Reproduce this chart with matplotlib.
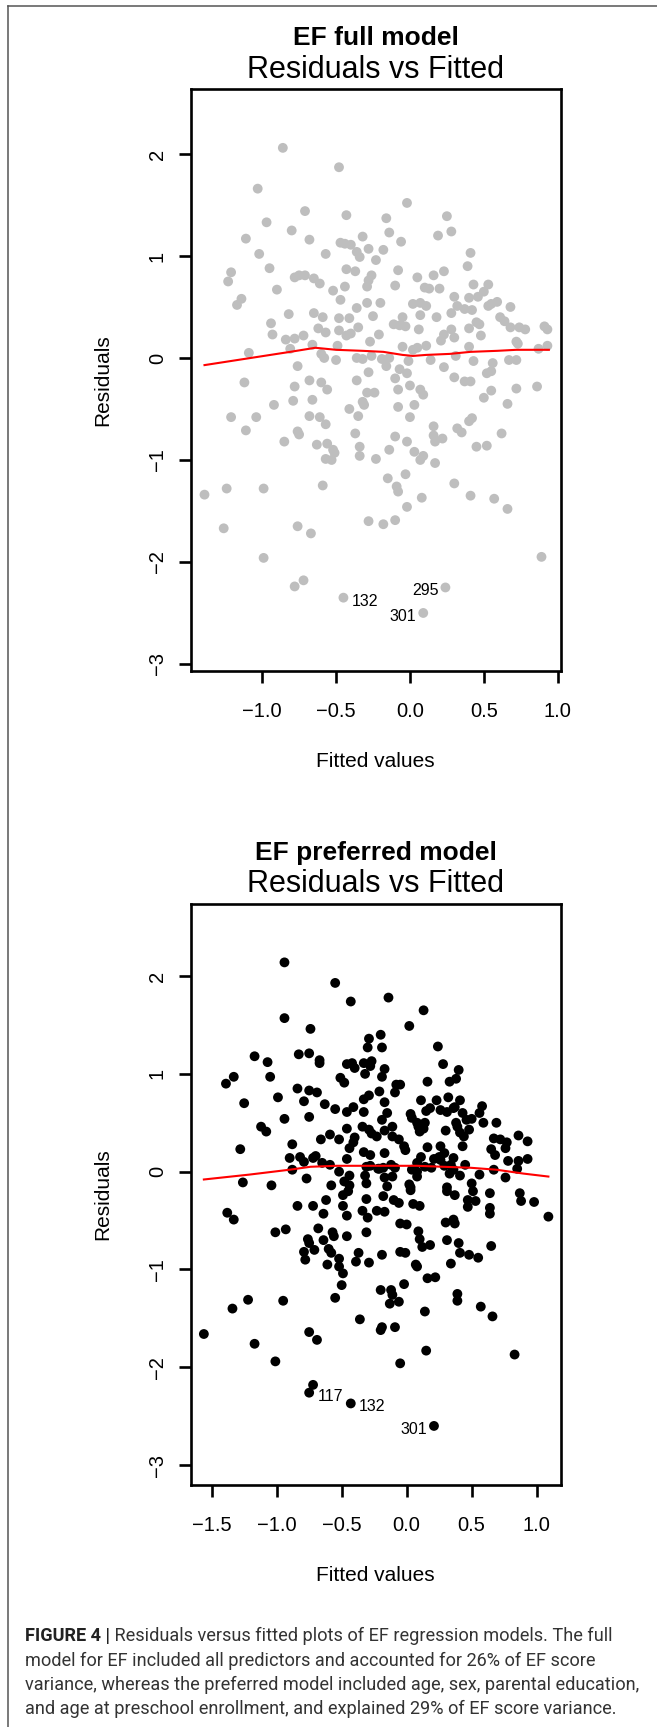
import matplotlib
matplotlib.use("Agg")
import matplotlib.pyplot as plt
from matplotlib.lines import Line2D

plt.rcParams['font.family'] = ['Liberation Sans', 'DejaVu Sans']

# ------------------------------------------------------------------ data
# EF full model: (fitted value, residual)
full_points = [
    (-0.86, 2.06), (-0.48, 1.87), (-1.03, 1.66), (-0.02, 1.52), (-0.71, 1.44), (-0.43, 1.40),
    (-0.16, 1.37), (0.25, 1.39), (-0.97, 1.33), (-0.80, 1.25), (-0.14, 1.23), (0.28, 1.24),
    (-1.11, 1.17), (-0.68, 1.16), (-0.32, 1.19), (-0.06, 1.14), (0.19, 1.20), (-0.47, 1.13),
    (-0.44, 1.12), (-0.40, 1.11), (-0.28, 1.07), (-1.02, 1.02), (-0.57, 1.02), (-0.36, 1.04),
    (-0.34, 0.99), (-0.18, 1.06), (0.41, 1.03), (-0.23, 0.96), (0.39, 0.90), (-1.21, 0.84),
    (-1.23, 0.75), (-0.95, 0.88), (-0.78, 0.79), (-0.75, 0.81), (-0.71, 0.81), (-0.65, 0.78),
    (-0.61, 0.73), (-0.43, 0.87), (-0.37, 0.85), (-0.26, 0.81), (-0.28, 0.76), (-0.29, 0.70),
    (-0.08, 0.86), (-0.10, 0.71), (0.05, 0.79), (0.16, 0.81), (0.23, 0.85), (0.43, 0.72),
    (0.53, 0.72), (-0.44, 0.70), (-0.52, 0.66), (-0.90, 0.67), (0.13, 0.68), (0.10, 0.69),
    (0.20, 0.68), (0.50, 0.65), (-1.17, 0.52), (-1.14, 0.58), (-0.47, 0.57), (-0.29, 0.54),
    (-0.20, 0.54), (0.30, 0.60), (0.40, 0.59), (0.46, 0.60), (0.02, 0.53), (0.07, 0.54),
    (0.11, 0.51), (0.32, 0.51), (0.37, 0.48), (0.42, 0.47), (0.59, 0.55), (0.55, 0.53),
    (0.53, 0.51), (0.68, 0.50), (-0.82, 0.43), (-0.65, 0.44), (-0.36, 0.49), (-0.94, 0.34),
    (-0.59, 0.40), (-0.48, 0.39), (-0.41, 0.39), (-0.25, 0.41), (-0.05, 0.40), (0.07, 0.42),
    (0.18, 0.40), (0.28, 0.44), (-0.11, 0.33), (-0.07, 0.32), (-0.03, 0.31), (0.45, 0.35),
    (0.47, 0.33), (0.61, 0.40), (0.64, 0.36), (0.68, 0.30), (0.74, 0.30), (0.78, 0.28),
    (0.91, 0.31), (0.93, 0.28), (-0.93, 0.23), (-0.84, 0.18), (-0.78, 0.19), (-0.72, 0.22),
    (-0.62, 0.29), (-0.57, 0.25), (-0.48, 0.27), (-0.43, 0.22), (-0.40, 0.24), (-0.35, 0.30),
    (-0.21, 0.23), (0.06, 0.28), (0.40, 0.29), (0.28, 0.28), (0.23, 0.23), (0.21, 0.17),
    (0.30, 0.20), (0.48, 0.22), (-0.27, 0.16), (-1.09, 0.05), (-0.81, 0.09), (-0.66, 0.13),
    (-0.49, 0.12), (-0.05, 0.11), (0.02, 0.08), (0.05, 0.10), (0.11, 0.12), (0.40, 0.11),
    (0.72, 0.16), (0.73, 0.14), (0.87, 0.09), (0.93, 0.12), (-0.60, 0.04), (-0.58, 0.00),
    (-0.50, -0.02), (-0.36, 0.00), (-0.32, -0.01), (-0.26, 0.02), (-0.19, -0.01), (-0.14, 0.00),
    (-0.01, -0.03), (0.14, -0.02), (0.31, 0.02), (0.43, -0.03), (0.67, -0.02), (0.72, -0.02),
    (-0.76, -0.08), (-0.28, -0.14), (-0.16, -0.08), (-0.07, -0.11), (-0.02, -0.15), (0.23, -0.09),
    (0.56, -0.05), (0.52, -0.15), (0.55, -0.13),
    (-1.12, -0.24), (-0.78, -0.28), (-0.68, -0.22), (-0.60, -0.24), (-0.56, -0.31), (-0.36, -0.22),
    (-0.29, -0.34), (-0.24, -0.34), (-0.10, -0.20), (-0.08, -0.31), (0.00, -0.27), (0.07, -0.31),
    (0.09, -0.36), (0.30, -0.19), (0.37, -0.23), (0.41, -0.23), (0.55, -0.32), (0.50, -0.39),
    (0.72, -0.30), (0.86, -0.28), (-0.92, -0.46), (-0.79, -0.42), (-0.66, -0.41), (-1.21, -0.58),
    (-1.04, -0.58), (-1.11, -0.71), (-0.68, -0.57), (-0.61, -0.58), (-0.57, -0.65), (-0.41, -0.50),
    (-0.35, -0.57), (-0.32, -0.43), (-0.31, -0.46), (-0.08, -0.48), (0.00, -0.58), (0.03, -0.46),
    (0.66, -0.45), (-0.85, -0.82), (-0.76, -0.72), (-0.75, -0.75), (-0.63, -0.85), (-0.56, -0.84),
    (-0.52, -0.90), (-0.51, -0.93), (-0.57, -0.99), (-0.53, -1.00), (-0.37, -0.74), (-0.34, -0.87),
    (-0.34, -0.96), (-0.23, -0.99), (-0.14, -0.90), (-0.10, -0.77), (-0.02, -0.82), (0.03, -0.92),
    (0.07, -1.00), (0.09, -0.96), (0.16, -0.67), (0.16, -0.76), (0.17, -0.82), (0.22, -0.79),
    (0.17, -1.03), (0.32, -0.69), (0.35, -0.73), (0.40, -0.62), (0.42, -0.59), (0.45, -0.87),
    (0.52, -0.86), (0.62, -0.74), (-1.39, -1.34), (-1.24, -1.28), (-0.99, -1.28), (-0.59, -1.25),
    (-0.15, -1.18), (-0.09, -1.26), (-0.08, -1.31), (-0.03, -1.14), (-0.02, -1.46), (0.08, -1.37),
    (0.30, -1.23), (0.41, -1.35), (0.57, -1.38), (0.66, -1.48), (-1.26, -1.67), (-0.76, -1.65),
    (-0.67, -1.72), (-0.28, -1.60), (-0.18, -1.63), (-0.10, -1.59), (-0.99, -1.96), (0.89, -1.95),
    (-0.78, -2.24), (-0.72, -2.18), (-0.45, -2.35), (0.24, -2.25), (0.09, -2.50),
]
full_smooth_x = [-1.39, -0.81, -0.64, -0.50, -0.32, -0.18, -0.05, 0.02, 0.11, 0.27, 0.41, 0.59, 0.72, 0.94]
full_smooth_y = [-0.07, 0.06, 0.10, 0.08, 0.07, 0.06, 0.03, 0.02, 0.03, 0.04, 0.06, 0.07, 0.08, 0.08]
full_id_labels = ["132", "295", "301"]
full_id_fitted = [-0.45, 0.24, 0.09]
full_id_resid = [-2.35, -2.25, -2.50]

# EF preferred model: (fitted value, residual)
pref_points = [
    (-0.94, 2.14), (-0.55, 1.93), (-0.43, 1.74), (-0.14, 1.78), (0.13, 1.65), (-0.94, 1.57),
    (-0.74, 1.46), (0.02, 1.49), (-0.29, 1.36), (-0.20, 1.40), (-0.30, 1.27), (-0.19, 1.27),
    (0.24, 1.28), (-1.17, 1.18), (-1.07, 1.12), (-0.83, 1.20), (-0.75, 1.21), (-0.67, 1.14),
    (-0.67, 1.11), (-0.46, 1.10), (-0.42, 1.11), (-0.40, 1.06), (-0.33, 1.11), (-0.28, 1.08),
    (-0.32, 1.00), (-0.27, 1.13), (-0.17, 1.05), (-0.19, 0.97), (0.28, 1.10), (0.40, 1.04),
    (-1.39, 0.90), (-1.33, 0.97), (-1.05, 0.97), (-0.51, 0.96), (-0.48, 0.91), (0.33, 0.92),
    (0.38, 0.95), (0.16, 0.92), (-0.08, 0.89), (-0.05, 0.89), (-0.09, 0.81), (-0.84, 0.85),
    (-0.75, 0.83), (-0.69, 0.81), (-0.79, 0.72), (-0.99, 0.76), (-1.25, 0.70), (-0.63, 0.69),
    (-0.55, 0.64), (-0.46, 0.61), (-0.41, 0.66), (-0.33, 0.61), (-0.33, 0.74), (-0.29, 0.78),
    (-0.21, 0.82), (-0.17, 0.71), (-0.15, 0.60), (-0.19, 0.53), (-0.75, 0.56), (-0.94, 0.54),
    (0.03, 0.59), (0.04, 0.55), (0.11, 0.73), (0.15, 0.62), (0.18, 0.65), (0.23, 0.73),
    (0.26, 0.63), (0.31, 0.61), (0.32, 0.76), (0.36, 0.65), (0.41, 0.73), (0.43, 0.60),
    (0.58, 0.67), (0.56, 0.60), (0.59, 0.50), (0.69, 0.50), (0.37, 0.66), (0.38, 0.50),
    (0.50, 0.54), (0.46, 0.53), (0.09, 0.46), (0.08, 0.50), (0.14, 0.50), (0.13, 0.44),
    (0.10, 0.41), (0.30, 0.42), (0.39, 0.46), (0.41, 0.40), (0.48, 0.43), (0.44, 0.36),
    (-1.12, 0.46), (-1.08, 0.41), (-0.88, 0.28), (-0.66, 0.33), (-0.59, 0.38), (-0.52, 0.33),
    (-0.46, 0.44), (-0.40, 0.35), (-0.41, 0.30), (-0.44, 0.24), (-0.34, 0.46), (-0.29, 0.43),
    (-0.27, 0.39), (-0.23, 0.36), (-0.17, 0.42), (-0.11, 0.46), (-0.11, 0.36), (-0.06, 0.33),
    (-0.02, 0.26), (-0.01, 0.22), (0.16, 0.25), (0.26, 0.26), (0.29, 0.19), (0.25, 0.15),
    (0.36, 0.14), (0.43, 0.26), (0.67, 0.34), (0.72, 0.33), (0.65, 0.23), (0.68, 0.17),
    (0.77, 0.30), (0.76, 0.24), (0.86, 0.37), (0.93, 0.31), (0.78, 0.11), (0.86, 0.11),
    (0.93, 0.13), (0.85, 0.03), (-1.28, 0.23), (-0.90, 0.14), (-0.82, 0.15), (-0.79, 0.10),
    (-0.72, 0.14), (-0.70, 0.16), (-0.65, 0.09), (-0.59, 0.07), (-0.46, 0.13), (-0.33, 0.20),
    (-0.28, 0.17), (-0.17, 0.19), (-0.12, 0.07), (-0.09, 0.04), (0.04, 0.02), (0.08, 0.09),
    (0.11, 0.15), (0.19, 0.04), (0.21, 0.13), (0.26, 0.12), (0.29, 0.06), (0.34, 0.07),
    (0.36, 0.02), (0.45, 0.07), (-0.88, 0.02), (-0.52, 0.00), (-0.31, 0.05), (-0.28, 0.06),
    (-0.22, 0.03), (-0.18, 0.04), (0.08, 0.00), (0.14, 0.05), (0.67, 0.02), (0.76, -0.06),
    (-1.26, -0.11), (-1.04, -0.14), (-0.77, -0.07), (-0.58, -0.14), (-0.48, -0.10), (-0.44, -0.04),
    (-0.44, -0.14), (-0.32, -0.04), (-0.31, -0.12), (-0.21, 0.03), (-0.17, -0.06), (-0.15, -0.15),
    (-0.11, -0.05), (0.02, -0.13), (0.03, -0.16), (0.08, -0.05), (0.31, -0.16), (0.33, -0.02),
    (0.41, -0.04), (0.50, -0.12), (0.56, -0.03),
    (-0.49, -0.24), (-0.45, -0.20), (-0.18, -0.25), (0.03, -0.19), (0.31, -0.20), (0.37, -0.24),
    (0.51, -0.20), (0.64, -0.22), (0.87, -0.22), (0.88, -0.30), (0.98, -0.31), (1.09, -0.46),
    (-1.38, -0.42), (-1.33, -0.49), (-0.84, -0.35), (-0.72, -0.35), (-0.62, -0.29), (-0.64, -0.43),
    (-0.49, -0.35), (-0.46, -0.45), (-0.34, -0.40), (-0.31, -0.28), (-0.30, -0.47), (-0.23, -0.40),
    (-0.17, -0.41), (-0.10, -0.29), (-0.06, -0.32), (-0.05, -0.53), (0.00, -0.54), (0.05, -0.33),
    (0.10, -0.35), (0.09, -0.61), (0.10, -0.69), (0.12, -0.77), (0.18, -0.75), (0.30, -0.52),
    (0.36, -0.49), (0.37, -0.53), (0.47, -0.29), (0.53, -0.30), (0.47, -0.36), (0.64, -0.37),
    (0.64, -0.43), (-1.01, -0.62), (-0.93, -0.59), (-0.76, -0.69), (-0.75, -0.73), (-0.71, -0.80),
    (-0.68, -0.58), (-0.64, -0.70), (-0.57, -0.62), (-0.56, -0.66), (-0.60, -0.79), (-0.58, -0.83),
    (-0.46, -0.66), (-0.31, -0.62), (-0.79, -0.82), (-0.78, -0.90), (-0.61, -0.95), (-0.52, -0.89),
    (-0.52, -0.97), (-0.49, -1.04), (-0.50, -1.16), (-0.55, -1.29), (-0.37, -0.83), (-0.39, -0.92),
    (-0.29, -0.93), (-0.19, -0.85), (-0.05, -0.82), (-0.01, -0.83), (0.31, -0.70), (0.40, -0.73),
    (0.41, -0.83), (0.48, -0.85), (0.55, -0.88), (0.34, -0.94), (0.65, -0.76), (0.07, -0.95),
    (0.08, -0.97), (0.16, -1.09), (0.22, -1.08), (-0.02, -1.15), (-0.20, -1.21), (-0.12, -1.21),
    (-0.11, -1.26), (-0.13, -1.35), (-0.06, -1.33), (0.39, -1.25), (0.39, -1.32), (0.57, -1.38),
    (0.66, -1.48), (0.14, -1.43), (-0.36, -1.51), (-0.19, -1.59), (-0.20, -1.62), (-0.09, -1.59),
    (-1.56, -1.66), (-1.34, -1.40), (-1.22, -1.31), (-0.95, -1.32), (-1.17, -1.76), (-1.01, -1.94),
    (-0.75, -1.64), (-0.69, -1.72), (-0.05, -1.96), (0.15, -1.83), (0.83, -1.87), (-0.72, -2.18),
    (-0.75, -2.26), (-0.43, -2.37), (0.21, -2.60),
]
pref_smooth_x = [-1.56, -1.21, -0.90, -0.74, -0.54, -0.33, -0.13, 0.08, 0.28, 0.49, 0.69, 0.90, 1.09]
pref_smooth_y = [-0.08, -0.03, 0.02, 0.05, 0.06, 0.06, 0.06, 0.06, 0.05, 0.04, 0.02, -0.02, -0.05]
pref_id_labels = ["117", "132", "301"]
pref_id_fitted = [-0.75, -0.43, 0.21]
pref_id_resid = [-2.26, -2.37, -2.60]

full_xticks = [-1.0, -0.5, 0.0, 0.5, 1.0]
full_xticklabels = ["\u22121.0", "\u22120.5", "0.0", "0.5", "1.0"]
pref_xticks = [-1.5, -1.0, -0.5, 0.0, 0.5, 1.0]
pref_xticklabels = ["\u22121.5", "\u22121.0", "\u22120.5", "0.0", "0.5", "1.0"]
yticks = [-3, -2, -1, 0, 1, 2]
yticklabels = ["\u22123", "\u22122", "\u22121", "0", "1", "2"]

caption_bold = "FIGURE 4 |"
caption_lines = [
    " Residuals versus fitted plots of EF regression models. The full",
    "model for EF included all predictors and accounted for 26% of EF score",
    "variance, whereas the preferred model included age, sex, parental education,",
    "and age at preschool enrollment, and explained 29% of EF score variance.",
]

# ------------------------------------------------------------------ layout
W, H, DPI = 657, 1727, 100
fig = plt.figure(figsize=(W / DPI, H / DPI), dpi=DPI)
fig.patch.set_facecolor("white")

# thin page frame (left and top edges)
fig.add_artist(Line2D([7.5 / W, 7.5 / W], [0, 1 - 6 / H], color="#555555", lw=1.1))
fig.add_artist(Line2D([7.5 / W, 1], [1 - 6 / H, 1 - 6 / H], color="#555555", lw=1.1))


def draw_panel(box, xlim, ylim, points, color, sx, sy, ids, idx, idy,
               xticks, xticklabels, title):
    left, top, right, bottom = box
    ax = fig.add_axes([left / W, 1 - bottom / H, (right - left) / W, (bottom - top) / H])
    fx = [p[0] for p in points]
    fy = [p[1] for p in points]
    ax.scatter(fx, fy, s=50, c=color, edgecolors="none", zorder=2, clip_on=False)
    ax.plot(sx, sy, color="#FF0000", lw=1.5, zorder=3)
    xmid = (min(fx) + max(fx)) / 2
    for lab, x, y in zip(ids, idx, idy):
        if x < xmid:
            ax.annotate(lab, (x, y), xytext=(6.0, -2.5), textcoords="offset points",
                        ha="left", va="center", fontsize=11.5, color="black")
        else:
            ax.annotate(lab, (x, y), xytext=(-5.0, -2.5), textcoords="offset points",
                        ha="right", va="center", fontsize=11.5, color="black")
    ax.set_xlim(*xlim)
    ax.set_ylim(*ylim)
    ax.set_xticks(xticks)
    ax.set_xticklabels(xticklabels)
    ax.set_yticks(yticks)
    ax.set_yticklabels(yticklabels, rotation=90, va="center", ha="right")
    ax.tick_params(axis="both", direction="out", length=8.6, width=1.9,
                   labelsize=14.5, colors="black")
    ax.tick_params(axis="x", pad=14.0)
    ax.tick_params(axis="y", pad=8.4)
    for sp in ax.spines.values():
        sp.set_linewidth(1.9)
        sp.set_color("black")
    hpx = bottom - top
    wpx = right - left
    ax.set_xlabel("Fitted values", fontsize=15)
    ax.xaxis.label.set_va("baseline")
    ax.xaxis.set_label_coords(0.5, -96.0 / hpx)
    ax.set_ylabel("Residuals", fontsize=15)
    ax.yaxis.label.set_va("center")
    ax.yaxis.set_label_coords((103.0 - left) / wpx, 0.5)
    cx = (left + right) / 2 / W
    fig.text(cx, 1 - (top - 11.5) / H, "Residuals vs Fitted", ha="center",
             va="baseline", fontsize=22)
    fig.text(cx, 1 - (top - 44.0) / H, title, ha="center", va="baseline",
             fontsize=19, fontweight="bold")
    return ax


draw_panel((190.6, 89, 561, 671), (-1.484, 1.022), (-3.069, 2.637), full_points,
           "#BEBEBE", full_smooth_x, full_smooth_y, full_id_labels, full_id_fitted,
           full_id_resid, full_xticks, full_xticklabels, "EF full model")
draw_panel((190.6, 904, 561, 1485), (-1.662, 1.187), (-3.204, 2.737), pref_points,
           "black", pref_smooth_x, pref_smooth_y, pref_id_labels, pref_id_fitted,
           pref_id_resid, pref_xticks, pref_xticklabels, "EF preferred model")

# ------------------------------------------------------------------ caption
cap_family = ["Roboto", "Liberation Sans", "DejaVu Sans"]
cap_color = "#333333"
cap_x0 = 25.0
cap_base = [1641.0, 1665.5, 1690.0, 1714.5]
fs0 = 13.0
bold = fig.text(cap_x0 / W, 1 - cap_base[0] / H, caption_bold, fontsize=fs0,
                fontweight="bold", color="#222222", va="baseline", family=cap_family)
lines = []
for i, s in enumerate(caption_lines):
    lines.append(fig.text(cap_x0 / W, 1 - cap_base[i] / H, s, fontsize=fs0,
                          color=cap_color, va="baseline", family=cap_family))
fig.canvas.draw()
renderer = fig.canvas.get_renderer()
w3 = lines[2].get_window_extent(renderer).width
fs = fs0 * 615.0 / w3
bold.set_fontsize(fs)
for t in lines:
    t.set_fontsize(fs)
fig.canvas.draw()
bw = bold.get_window_extent(renderer).width
lines[0].set_x((cap_x0 + bw) / W)

fig.savefig("out.png", dpi=DPI, facecolor="white")
